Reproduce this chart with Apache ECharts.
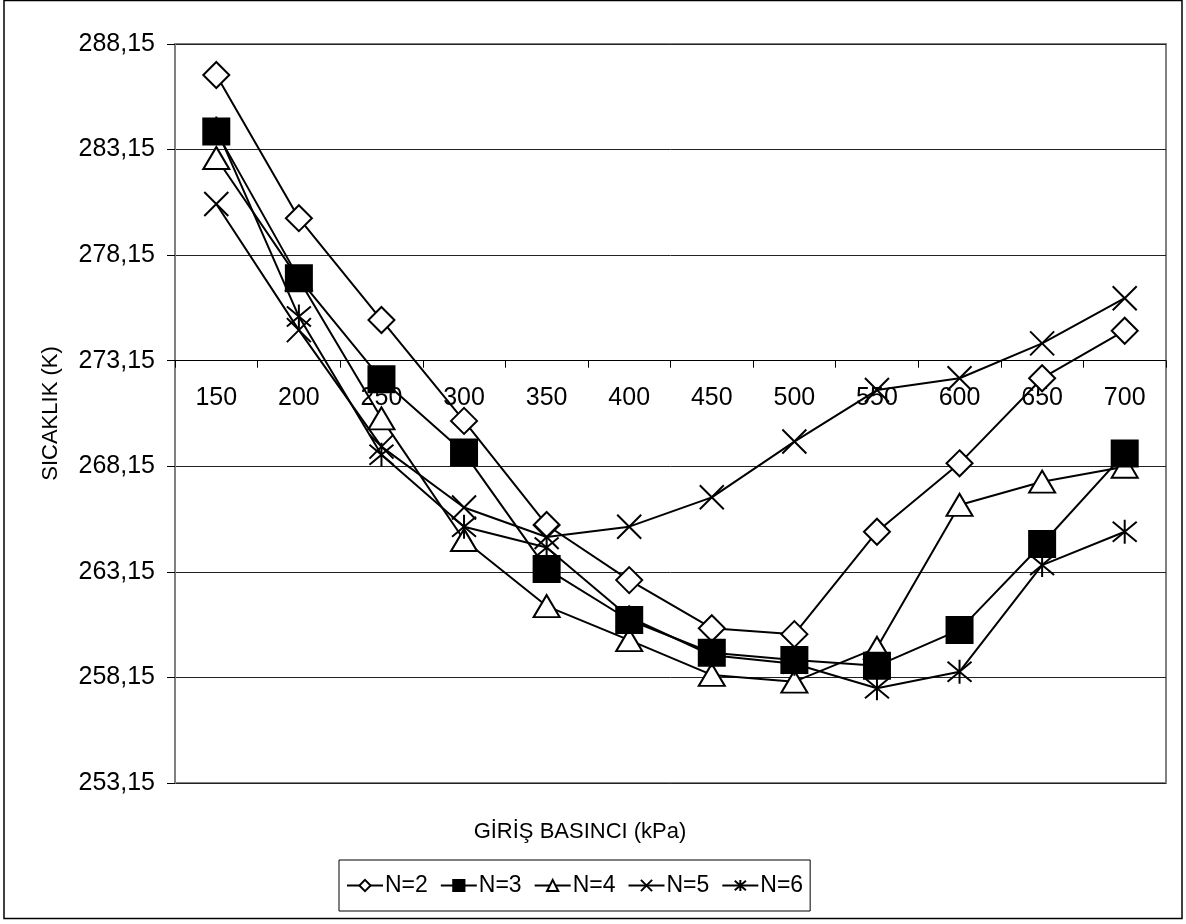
<!DOCTYPE html>
<html>
<head>
<meta charset="utf-8">
<script src="https://cdn.jsdelivr.net/npm/echarts@6/dist/echarts.min.js"></script>
<style>
html,body{margin:0;padding:0;background:#fff;}
#chart{width:1186px;height:924px;}
</style>
</head>
<body>
<div id="chart"></div>
<script>
// Categories: inlet pressure (kPa)
const categories = ['150','200','250','300','350','400','450','500','550','600','650','700'];
// Temperatures (K) for each number of stages
const n2 = [286.68, 279.90, 275.08, 270.30, 265.37, 262.76, 260.48, 260.20, 265.05, 268.29, 272.32, 274.57];
const n3 = [284.00, 277.05, 272.27, 268.80, 263.29, 260.87, 259.32, 258.98, 258.70, 260.40, 264.47, 268.76];
const n4 = [282.75, 277.00, 270.42, 264.66, 261.53, 259.92, 258.27, 257.95, 259.55, 266.32, 267.42, 268.13];
const n5 = [280.57, 274.60, 269.08, 266.20, 264.80, 265.29, 266.68, 269.32, 271.76, 272.32, 273.97, 276.11];
const n6 = [284.15, 275.24, 268.70, 265.29, 264.30, 261.00, 259.20, 258.80, 257.64, 258.42, 263.47, 265.05];
const seriesNames = ['N=2','N=3','N=4','N=5','N=6'];
// y axis in K: 253,15 ... 288,15 step 5 ; x axis crosses at 273,15
const yMinK = 253.15, yMaxK = 288.15, yStep = 5, crossK = 273.15;

const FONT = '"Liberation Sans", Arial, sans-serif';
const toAxis = v => +(v - crossK).toFixed(3);
const fmtK = v => (v + crossK).toFixed(2).replace('.', ',');

const X_PATH = 'path://M0,0L20,20M20,0L0,20';
const AST_PATH = 'path://M0,0L20,20M20,0L0,20M10,-2L10,22';

function mk(name, data, symbol, size, fill, z) {
  return {
    name: name,
    type: 'line',
    data: data.map(toAxis),
    symbol: symbol,
    symbolSize: size,
    showSymbol: true,
    animation: false,
    z: z,
    lineStyle: {color: '#000', width: 2},
    itemStyle: {color: fill, borderColor: '#000', borderWidth: 2},
    emphasis: {disabled: true}
  };
}

const gridTop = 44, gridBottom = 141, chartH = 924;
const plotH = chartH - gridTop - gridBottom;
const crossOffset = -plotH * (crossK - yMinK) / (yMaxK - yMinK);

const chart = echarts.init(document.getElementById('chart'), null, {renderer: 'canvas'});
chart.setOption({
  backgroundColor: '#fff',
  animation: false,
  grid: {left: 175, top: gridTop, right: 20, bottom: gridBottom, show: true, borderColor: '#808080', borderWidth: 2, backgroundColor: 'transparent'},
  xAxis: {
    type: 'category',
    data: categories,
    boundaryGap: true,
    position: 'bottom',
    offset: crossOffset,
    axisLine: {onZero: false, lineStyle: {color: '#000', width: 1}},
    axisTick: {show: true, length: 7, lineStyle: {color: '#000'}},
    axisLabel: {fontSize: 25, fontFamily: FONT, color: '#000', margin: 25},
    splitLine: {show: false}
  },
  yAxis: {
    type: 'value',
    min: yMinK - crossK,
    max: yMaxK - crossK,
    interval: yStep,
    name: 'SICAKLIK (K)',
    nameLocation: 'middle',
    nameGap: 113,
    nameTextStyle: {fontSize: 22, fontFamily: FONT, color: '#000'},
    axisLine: {show: true, lineStyle: {color: '#808080', width: 2}},
    axisTick: {show: true, length: 8, lineStyle: {color: '#000'}},
    axisLabel: {fontSize: 25, fontFamily: FONT, color: '#000', margin: 20, formatter: fmtK},
    splitLine: {show: true, lineStyle: {color: '#222', width: 1}}
  },
  legend: {
    data: seriesNames,
    left: 339,
    top: 860,
    orient: 'horizontal',
    itemWidth: 36,
    itemHeight: 14,
    itemGap: 12,
    borderColor: '#000',
    borderWidth: 1,
    padding: [14, 7],
    textStyle: {fontSize: 23, fontFamily: FONT, color: '#000', padding: [0, 0, 0, -3]}
  },
  graphic: [
    {type: 'rect', shape: {x: 4, y: 0.5, width: 1178, height: 918}, style: {fill: 'none', stroke: '#000', lineWidth: 1.5}, silent: true, z: -1},
    {type: 'text', x: 580, y: 832, style: {text: 'GİRİŞ BASINCI (kPa)', font: '22px ' + FONT, fill: '#000', align: 'center', verticalAlign: 'middle'}}
  ],
  series: [
    mk(seriesNames[0], n2, 'diamond', 26, '#fff', 2),
    mk(seriesNames[1], n3, 'rect', 26, '#000', 4),
    mk(seriesNames[2], n4, 'triangle', [26, 22], '#fff', 2),
    mk(seriesNames[3], n5, X_PATH, 24, '#000', 2),
    mk(seriesNames[4], n6, AST_PATH, 24, '#000', 3)
  ]
});
</script>
</body>
</html>
